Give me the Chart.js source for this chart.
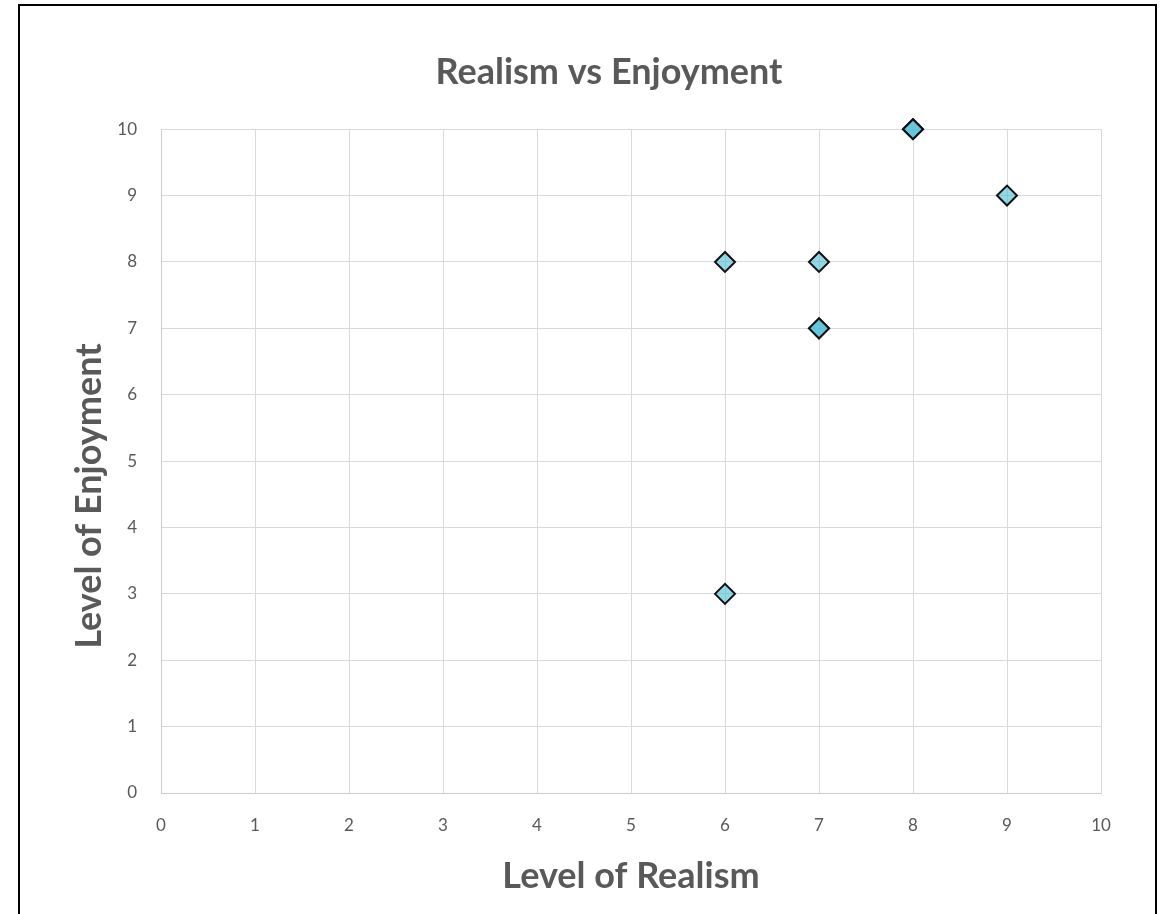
<!DOCTYPE html>
<html>
<head>
<meta charset="utf-8">
<title>Realism vs Enjoyment</title>
<script src="https://cdn.jsdelivr.net/npm/chart.js@4.4.0/dist/chart.umd.min.js"></script>
<style>
  body { margin: 0; background: #fff; }
  #wrap { position: relative; width: 1161px; height: 914px; overflow: hidden; }
  #frame { position: absolute; left: 18px; top: 4px; width: 1139px; height: 1000px;
           border: 2px solid #000; box-sizing: border-box; }
  #chart { position: absolute; left: 0; top: 0; }
</style>
</head>
<body>
<div id="wrap">
  <div id="frame"></div>
  <canvas id="chart" width="1161" height="914"></canvas>
</div>
<script>
// survey answers, one entry per respondent
var realism   = [6, 6, 7, 7, 7, 8, 8, 9];
var enjoyment = [8, 3, 8, 7, 7, 10, 10, 9];
var axisTicks = [0, 1, 2, 3, 4, 5, 6, 7, 8, 9, 10];

var grey = '#595959';
var yTitle = 'Level of Enjoyment';
var points = realism.map(function (x, i) { return { x: x, y: enjoyment[i] }; });

function tickOpts(pad) {
  return {
    min: axisTicks[0],
    max: axisTicks[axisTicks.length - 1],
    ticks: {
      stepSize: 1,
      padding: pad,
      color: grey,
      font: { family: 'Lato', size: 17 }
    },
    grid: { color: '#d9d9d9', lineWidth: 1, drawTicks: false },
    border: { color: '#cccccc', width: 1 }
  };
}

var xScale = tickOpts(22);
xScale.type = 'linear';
xScale.position = 'bottom';
xScale.title = {
  display: true,
  text: 'Level of Realism',
  color: grey,
  font: { family: 'Lato', size: 36, weight: 'bold', lineHeight: 1.2 },
  padding: { top: 16, bottom: 16 }
};
xScale.afterFit = function (scale) { scale.height = 121; };

var yScale = tickOpts(24);
yScale.type = 'linear';
yScale.position = 'left';
yScale.afterFit = function (scale) { scale.width = 104; };

// empty strip on the right so the plot stops short of the frame
var spacer = {
  type: 'linear',
  position: 'right',
  display: true,
  ticks: { display: false },
  grid: { display: false, drawOnChartArea: false },
  border: { display: false },
  afterFit: function (scale) { scale.width = 60; }
};

// vertical axis title, sat a little below the middle of the plot
var sideTitle = {
  id: 'sideTitle',
  afterDraw: function (chart) {
    var ctx = chart.ctx;
    var area = chart.chartArea;
    ctx.save();
    ctx.translate(89, (area.top + area.bottom) / 2 + 35);
    ctx.rotate(-Math.PI / 2);
    ctx.font = 'bold 36px Lato';
    ctx.fillStyle = grey;
    ctx.textAlign = 'center';
    ctx.textBaseline = 'middle';
    ctx.fillText(yTitle, 0, 0);
    ctx.restore();
  }
};

new Chart(document.getElementById('chart'), {
  type: 'scatter',
  data: {
    datasets: [{
      label: 'Enjoyment',
      data: points,
      clip: false,
      pointStyle: 'rectRot',
      pointRadius: 10,
      pointHoverRadius: 10,
      pointBorderWidth: 2,
      pointBorderColor: '#111111',
      pointBackgroundColor: 'rgba(74, 189, 214, 0.6)'
    }]
  },
  options: {
    responsive: false,
    animation: false,
    layout: { padding: { left: 57, right: 0, top: 0, bottom: 0 } },
    plugins: {
      legend: { display: false },
      tooltip: { enabled: false },
      title: {
        display: true,
        text: 'Realism vs Enjoyment',
        color: grey,
        font: { family: 'Lato', size: 36, weight: 'bold', lineHeight: 1.2 },
        padding: { top: 51, bottom: 35 }
      }
    },
    scales: { x: xScale, y: yScale, spacer: spacer }
  },
  plugins: [sideTitle]
});
</script>
</body>
</html>
